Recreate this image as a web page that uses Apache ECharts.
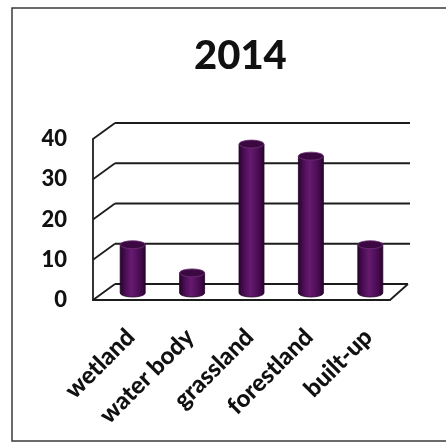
<!DOCTYPE html>
<html>
<head>
<meta charset="utf-8">
<script src="https://cdn.jsdelivr.net/npm/echarts@6/dist/echarts.min.js"></script>
<style>
html,body{margin:0;padding:0;background:#fff;}
#main{width:446px;height:445px;}
</style>
</head>
<body>
<div id="main"></div>
<script>
const titleText = '2014';
const categories = ['wetland', 'water body', 'grassland', 'forestland', 'built-up'];
const values = [12, 5, 37, 34, 12];
const yTicks = [0, 10, 20, 30, 40];

const FONT = 'Lato, "Open Sans", sans-serif';
const LINE = '#1c1c1c';
const DX = 22, DY = -16;

const chart = echarts.init(document.getElementById('main'), null, {renderer: 'canvas'});

function wallItem(params, api) {
  const cs = params.coordSys;
  const v = api.value(1);
  const y = api.coord([0, v])[1];
  const L = cs.x, R = cs.x + cs.width;
  const style = {stroke: LINE, lineWidth: 1.8, fill: null};
  const children = [
    {type: 'line', shape: {x1: L, y1: y, x2: L + DX, y2: y + DY}, style: style},
  ];
  if (v === 0) {
    children.push({type: 'line', shape: {x1: L + DX, y1: y + DY, x2: R + 18, y2: y + DY}, style: style});
    children.push({type: 'line', shape: {x1: R, y1: y, x2: R + 18, y2: y + DY}, style: style});
  } else {
    children.push({type: 'line', shape: {x1: L + DX, y1: y + DY, x2: R + 20, y2: y + DY}, style: style});
  }
  return {type: 'group', children: children};
}

function barItem(params, api) {
  const idx = api.value(0), v = api.value(1);
  const base = api.coord([idx, 0]);
  const top = api.coord([idx, v]);
  const cx = base[0] + 10;
  const yb = base[1] - 7;
  const yt = top[1] - 7;
  const rx = 12.5, ry = 4;
  const grad = new echarts.graphic.LinearGradient(0, 0, 1, 0, [
    {offset: 0, color: '#26042b'},
    {offset: 0.25, color: '#500f5a'},
    {offset: 0.45, color: '#661a70'},
    {offset: 0.75, color: '#4c0d55'},
    {offset: 1, color: '#28042d'}
  ]);
  const body = `M ${cx - rx} ${yt} L ${cx - rx} ${yb} A ${rx} ${ry} 0 0 0 ${cx + rx} ${yb} L ${cx + rx} ${yt} Z`;
  const cap = `M ${cx - rx} ${yt} A ${rx} ${ry} 0 1 0 ${cx + rx} ${yt} A ${rx} ${ry} 0 1 0 ${cx - rx} ${yt} Z`;
  return {
    type: 'group',
    children: [
      {type: 'path', shape: {pathData: body}, style: {fill: grad, stroke: '#1e0322', lineWidth: 0.8}},
      {type: 'path', shape: {pathData: cap}, style: {fill: '#3b0842', stroke: '#6e3375', lineWidth: 0.8}}
    ]
  };
}

function labelItem(params, api) {
  const idx = api.value(0);
  const p = api.coord([idx, 0]);
  return {
    type: 'text',
    x: p[0] + 8,
    y: p[1] + 33,
    rotation: Math.PI / 4,
    style: {
      text: categories[params.dataIndex],
      align: 'right',
      verticalAlign: 'middle',
      fontFamily: FONT,
      fontSize: 24,
      fontWeight: 900,
      fill: '#111'
    }
  };
}

chart.setOption({
  backgroundColor: '#ffffff',
  animation: false,
  title: {
    text: titleText,
    left: 189,
    top: 31,
    textStyle: {fontFamily: FONT, fontSize: 40, fontWeight: 900, color: '#111'}
  },
  graphic: [{
    type: 'rect',
    shape: {x: 12, y: 8, width: 460, height: 433},
    style: {fill: null, stroke: '#3a3a3a', lineWidth: 1.5},
    silent: true
  }],
  grid: {left: 93, right: 56, top: 139, bottom: 145, containLabel: false},
  xAxis: {
    type: 'category',
    data: categories,
    boundaryGap: true,
    axisLine: {show: true, lineStyle: {color: LINE, width: 1.8}},
    axisTick: {show: false},
    splitLine: {show: false},
    axisLabel: {show: false}
  },
  yAxis: {
    type: 'value',
    min: 0,
    max: 40,
    interval: 10,
    axisLine: {show: true, lineStyle: {color: LINE, width: 1.8}},
    axisTick: {show: false},
    splitLine: {show: false},
    axisLabel: {
      margin: 26,
      fontFamily: FONT,
      fontSize: 22,
      fontWeight: 900,
      color: '#111',
      formatter: function (v) { return yTicks.indexOf(v) >= 0 ? String(v) : ''; }
    }
  },
  series: [
    {
      type: 'custom',
      renderItem: wallItem,
      data: yTicks.map(v => [0, v]),
      silent: true,
      z: 1
    },
    {
      type: 'custom',
      renderItem: barItem,
      data: values.map((v, i) => [i, v]),
      silent: true,
      z: 2
    },
    {
      type: 'custom',
      renderItem: labelItem,
      data: categories.map((c, i) => [i, 0]),
      silent: true,
      z: 3
    }
  ]
});
</script>
</body>
</html>
